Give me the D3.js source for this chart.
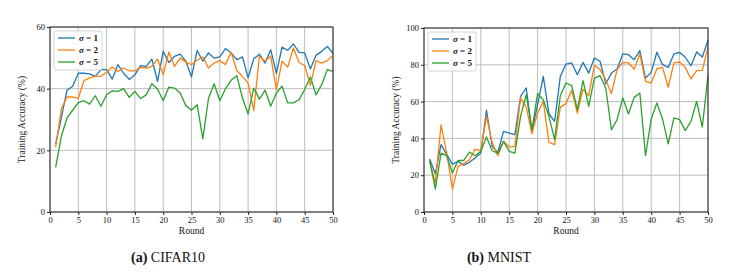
<!DOCTYPE html>
<html lang="en">
<head>
<meta charset="UTF-8">
<script src="https://d3js.org/d3.v7.min.js"></script>
<style>
  body { margin: 0; background: #fff; }
  text { font-family: "Liberation Serif", "DejaVu Serif", serif; fill: #111; }
</style>
</head>
<body>
<svg id="chart" width="749" height="275"></svg>
<script>
var rounds = d3.range(1, 51);
var seriesNames = ["1", "2", "5"];
var colors = ["#1f77b4", "#ff7f0e", "#2ca02c"];

// CIFAR10 training accuracy per round
var cifarS1 = [22, 30.5, 39.5, 40.8, 45, 45, 44.8, 44, 46.2, 46.2,
  43.1, 47.8, 45, 43, 44.5, 47.5, 47.2, 49.6, 42.4, 52.1,
  48.5, 50.5, 51.2, 48.9, 43.8, 52.4, 48.9, 51.6, 49.9, 50.3,
  53, 51.6, 49.4, 50.3, 43.5, 49.7, 51.2, 48.3, 52.6, 45,
  53.5, 52.4, 54.5, 51.8, 51.6, 46.4, 50.8, 52.1, 53.7, 51.4];
var cifarS2 = [21, 33.4, 37.3, 37.3, 36.8, 42.6, 43.5, 44, 44, 45.3,
  47, 45.6, 46.7, 45.8, 45.8, 46.9, 46.7, 47.2, 49.6, 44.5,
  51.9, 47.2, 49.9, 48.6, 47.8, 49.2, 50.3, 46.7, 48.3, 49.1,
  47.8, 51.8, 45.9, 44, 41.8, 32.9, 50.5, 48.9, 50.5, 39.7,
  48.9, 47, 53.2, 48.5, 47.5, 41.1, 49.1, 48.3, 49.1, 50.8];
var cifarS5 = [14.5, 24.5, 30.5, 33, 35.5, 36.1, 35, 37.7, 34.3, 38,
  39.3, 39.1, 40, 37.2, 39.1, 36.8, 38, 41.6, 39.9, 36.1,
  40.5, 40.2, 38.6, 34.5, 33, 34.8, 23.7, 36.8, 41.6, 36.1,
  40, 42.7, 44.2, 37, 31.8, 40.2, 36.6, 39.5, 34.3, 38.6,
  40.8, 35.4, 35.4, 36.4, 39.7, 43.8, 38, 41.3, 46.2, 45.6];

// MNIST training accuracy per round
var mnistS1 = [28.8, 20.8, 36.6, 31.2, 26, 27.5, 25.4, 27, 29.3, 32,
  55.3, 35.7, 32.4, 43.8, 42.9, 42, 62.9, 67.4, 43.8, 58.3,
  73.7, 53.4, 49.3, 73.7, 80.4, 81, 74.6, 81.3, 75.5, 83.7,
  81.9, 69.7, 75.5, 77.7, 85.9, 85.5, 82.8, 87.7, 72.8, 75.9,
  86.8, 80.1, 78.6, 85.9, 86.8, 84.1, 79.5, 87, 84.2, 93.3];
var mnistS2 = [27.5, 15.8, 47.3, 32, 12.5, 24.8, 26.3, 28.4, 34.2, 33.3,
  52, 37.9, 30.6, 38.4, 35.3, 35.7, 62, 57, 42.6, 53.8,
  60.1, 37.9, 36.6, 57, 58.9, 66.1, 53.8, 66.8, 63.2, 79.7,
  77.4, 71.9, 64.3, 77.4, 81.3, 81, 77.7, 85.9, 71, 70.1,
  77.9, 78.6, 67.8, 81, 81.5, 78.6, 72.3, 76.8, 77, 89.7];
var mnistS5 = [28, 12.5, 32, 30.6, 21.2, 28, 28, 32.6, 30.6, 33,
  40.8, 33.3, 32, 38.4, 33, 32, 52, 63.8, 44.7, 64.3,
  61, 52, 39.3, 63.2, 70.1, 68.7, 55.6, 71.4, 57.4, 72.8,
  74.1, 67.4, 44.7, 50.2, 62, 53.3, 62.3, 64.7, 30.6, 50.5,
  59.2, 50.5, 37, 51.1, 50.2, 44.2, 49.3, 60.1, 46.2, 74.1];

var xTicks = [0, 5, 10, 15, 20, 25, 30, 35, 40, 45, 50];

var svg = d3.select("#chart");

function drawPanel(opt) {
  var g = svg.append("g");
  var x = d3.scaleLinear().domain([0, 50]).range([opt.left, opt.right]);
  var y = d3.scaleLinear().domain([0, opt.ymax]).range([opt.bottom, opt.top]);

  // grid
  g.append("g").selectAll("line").data(xTicks).join("line")
    .attr("x1", d => x(d)).attr("x2", d => x(d))
    .attr("y1", opt.top).attr("y2", opt.bottom)
    .attr("stroke", "#bdbdbd").attr("stroke-width", 1);
  g.append("g").selectAll("line").data(opt.yTicks).join("line")
    .attr("x1", opt.left).attr("x2", opt.right)
    .attr("y1", d => y(d)).attr("y2", d => y(d))
    .attr("stroke", "#bdbdbd").attr("stroke-width", 1);

  // axes
  var xAxis = g.append("g").attr("transform", "translate(0," + opt.bottom + ")")
    .call(d3.axisBottom(x).tickValues(xTicks).tickSize(3).tickPadding(2));
  var yAxis = g.append("g").attr("transform", "translate(" + opt.left + ",0)")
    .call(d3.axisLeft(y).tickValues(opt.yTicks).tickSize(3).tickPadding(2));
  [xAxis, yAxis].forEach(function (a) {
    a.select(".domain").remove();
    a.selectAll("line").attr("stroke", "#222");
    a.selectAll("text").attr("font-size", 8.5)
      .attr("font-family", "'Liberation Serif', serif").attr("fill", "#111");
  });

  // lines
  var line = d3.line().x((d, i) => x(rounds[i])).y(d => y(d));
  opt.series.forEach(function (s, i) {
    g.append("path").datum(s)
      .attr("fill", "none").attr("stroke", colors[i])
      .attr("stroke-width", 1.3).attr("stroke-linejoin", "round")
      .attr("d", line);
  });

  // frame
  g.append("rect")
    .attr("x", opt.left).attr("y", opt.top)
    .attr("width", opt.right - opt.left).attr("height", opt.bottom - opt.top)
    .attr("fill", "none").attr("stroke", "#222").attr("stroke-width", 1);

  // axis titles
  g.append("text")
    .attr("x", (opt.left + opt.right) / 2).attr("y", opt.bottom + 22)
    .attr("text-anchor", "middle").attr("font-size", 9.5)
    .text("Round");
  g.append("text")
    .attr("transform", "translate(" + (opt.left - 25) + "," + ((opt.top + opt.bottom) / 2) + ") rotate(-90)")
    .attr("text-anchor", "middle").attr("font-size", 9.5)
    .text("Training Accuracy (%)");

  // legend
  var lx = opt.left + 4, ly = opt.top + 4;
  g.append("rect")
    .attr("x", lx).attr("y", ly).attr("width", 48).attr("height", 39)
    .attr("rx", 2).attr("fill", "#fff").attr("fill-opacity", 0.85)
    .attr("stroke", "#ccc").attr("stroke-width", 0.8);
  seriesNames.forEach(function (n, i) {
    var yy = ly + 7 + i * 12;
    g.append("line")
      .attr("x1", lx + 4).attr("x2", lx + 21)
      .attr("y1", yy).attr("y2", yy)
      .attr("stroke", colors[i]).attr("stroke-width", 1.3);
    var t = g.append("text").attr("x", lx + 25).attr("y", yy + 3)
      .attr("font-size", 9).attr("font-weight", "bold");
    t.append("tspan").attr("font-style", "italic").text("σ");
    t.append("tspan").text(" = " + n);
  });

  // caption
  var cap = g.append("text")
    .attr("x", opt.capX).attr("y", 262)
    .attr("text-anchor", "middle").attr("font-size", 14);
  cap.append("tspan").attr("font-weight", "bold").text(opt.capA);
  cap.append("tspan").text(" " + opt.capB);
}

drawPanel({
  left: 50, right: 333, top: 27, bottom: 212, ymax: 60,
  yTicks: [0, 20, 40, 60],
  series: [cifarS1, cifarS2, cifarS5],
  capX: 168, capA: "(a)", capB: "CIFAR10"
});

drawPanel({
  left: 424, right: 708, top: 28, bottom: 212, ymax: 100,
  yTicks: [0, 20, 40, 60, 80, 100],
  series: [mnistS1, mnistS2, mnistS5],
  capX: 499, capA: "(b)", capB: "MNIST"
});
</script>
</body>
</html>
